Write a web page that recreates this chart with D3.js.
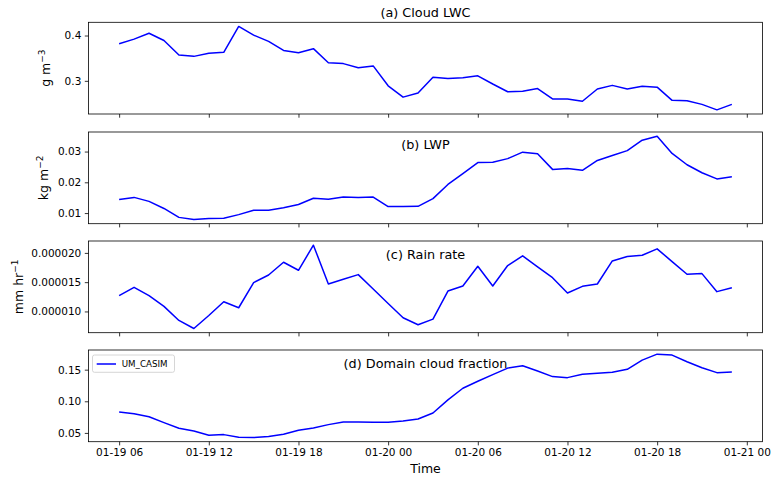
<!DOCTYPE html>
<html>
<head>
<meta charset="utf-8">
<script src="https://cdn.jsdelivr.net/npm/d3@7"></script>
<style>
  html, body { margin: 0; padding: 0; background: #fff; }
  svg { display: block; font-family: "DejaVu Sans", sans-serif; }
</style>
</head>
<body>
<svg id="chart" width="772" height="479"></svg>
<script>
// ---- data ----
const startTime = "2019-01-19T06:00:00Z";
const endTime   = "2019-01-20T23:00:00Z";
const xTickLabels = ["01-19 06","01-19 12","01-19 18","01-20 00","01-20 06","01-20 12","01-20 18","01-21 00"];

const cloudLWC = [0.382,0.392,0.405,0.389,0.357,0.354,0.361,0.363,0.420,0.401,0.387,0.367,0.362,0.371,0.340,0.338,0.329,0.333,0.289,0.264,0.273,0.308,0.305,0.307,0.311,0.293,0.276,0.277,0.283,0.260,0.260,0.255,0.282,0.290,0.282,0.288,0.286,0.257,0.256,0.248,0.236,0.248];
const lwp = [0.0144,0.0151,0.0138,0.0115,0.0086,0.0079,0.0082,0.0083,0.0095,0.0109,0.0109,0.0117,0.0128,0.0148,0.0145,0.0152,0.0151,0.0152,0.0121,0.0121,0.0122,0.0147,0.0193,0.0228,0.0264,0.0265,0.0277,0.0298,0.0293,0.0242,0.0245,0.0239,0.0271,0.0287,0.0303,0.0337,0.0350,0.0294,0.0257,0.0231,0.0211,0.0218];
const rainRate = [1.269e-5,1.412e-5,1.269e-5,1.086e-5,0.846e-5,0.708e-5,0.931e-5,1.166e-5,1.063e-5,1.492e-5,1.623e-5,1.840e-5,1.703e-5,2.132e-5,1.469e-5,1.549e-5,1.629e-5,1.383e-5,1.137e-5,0.892e-5,0.772e-5,0.868e-5,1.348e-5,1.434e-5,1.772e-5,1.434e-5,1.784e-5,1.949e-5,1.760e-5,1.577e-5,1.314e-5,1.429e-5,1.469e-5,1.863e-5,1.938e-5,1.960e-5,2.069e-5,1.852e-5,1.635e-5,1.646e-5,1.338e-5,1.406e-5];
const cloudFraction = [0.0830,0.0803,0.0756,0.0662,0.0574,0.0531,0.0463,0.0473,0.0432,0.0427,0.0442,0.0479,0.0542,0.0579,0.0631,0.0673,0.0673,0.0668,0.0668,0.0688,0.0720,0.0814,0.1023,0.1206,0.1316,0.1421,0.1525,0.1563,0.1478,0.1390,0.1374,0.1426,0.1442,0.1458,0.1505,0.1651,0.1745,0.1730,0.1625,0.1531,0.1453,0.1462];

const panelTitles = ["(a) Cloud LWC","(b) LWP","(c) Rain rate","(d) Domain cloud fraction"];
const yUnits = [["g m","\u22123"],["kg m","\u22122"],["mm hr","\u22121"],null];
const yTicksA = [0.3,0.4];
const yTicksB = [0.01,0.02,0.03];
const yTicksC = [0.000010,0.000015,0.000020];
const yTicksD = [0.05,0.10,0.15];
const yTickFormats = [".1f",".2f",".6f",".2f"];
const legendLabel = "UM_CASIM";
const xLabel = "Time";

// ---- layout ----
const L = 88.5, R = 762.5;
const panelTops = [22.3, 132, 241, 350];
const panelH = 91.7;
const ylabelBaseX = [49.5, 48, 22.7];
const lineColor = "#0000ff";

const svg = d3.select("#chart");
const times = d3.utcHour.range(new Date(startTime), d3.utcHour.offset(new Date(endTime), 1));
const t0 = +times[0], t1 = +times[times.length - 1];
const pad = (t1 - t0) * 0.05;
const x = d3.scaleUtc().domain([new Date(t0 - pad), new Date(t1 + pad)]).range([L, R]);
const xTickDates = xTickLabels.map((s, i) => d3.utcHour.offset(times[0], 6 * i));

const series = [cloudLWC, lwp, rainRate, cloudFraction];
const yTicks = [yTicksA, yTicksB, yTicksC, yTicksD];

series.forEach((vals, p) => {
  const top = panelTops[p], bot = top + panelH;
  const [mn, mx] = d3.extent(vals);
  const m = (mx - mn) * 0.05;
  const y = d3.scaleLinear().domain([mn - m, mx + m]).range([bot, top]);
  const g = svg.append("g");

  // line
  const line = d3.line().x((d, i) => x(times[i])).y(d => y(d));
  g.append("path").datum(vals).attr("d", line)
    .attr("fill", "none").attr("stroke", lineColor).attr("stroke-width", 1.5)
    .attr("stroke-linejoin", "round");

  // y axis
  const yAxis = d3.axisLeft(y).tickValues(yTicks[p]).tickFormat(d3.format(yTickFormats[p]))
    .tickSize(3.7).tickPadding(3.5);
  const ya = g.append("g").attr("transform", `translate(${L},0)`).call(yAxis);
  ya.select(".domain").remove();
  ya.selectAll("text").attr("font-size", 10.5).attr("fill", "#000").attr("font-family", "DejaVu Sans");
  ya.selectAll("line").attr("stroke", "#000").attr("stroke-width", 0.8);

  // x axis
  const xAxis = d3.axisBottom(x).tickValues(xTickDates).tickSize(3.7).tickPadding(3.5)
    .tickFormat((d, i) => p === 3 ? xTickLabels[i] : "");
  const xa = g.append("g").attr("transform", `translate(0,${bot})`).call(xAxis);
  xa.select(".domain").remove();
  xa.selectAll("text").attr("font-size", 10.5).attr("fill", "#000").attr("font-family", "DejaVu Sans");
  xa.selectAll("line").attr("stroke", "#000").attr("stroke-width", 0.8);

  // frame
  g.append("rect").attr("x", L).attr("y", top).attr("width", R - L).attr("height", panelH)
    .attr("fill", "none").attr("stroke", "#000").attr("stroke-width", 0.8);

  // title
  const titleY = p === 0 ? top - 5.8 : [0, 149.3, 259.3, 368.3][p];
  g.append("text").attr("x", (L + R) / 2).attr("y", titleY).attr("text-anchor", "middle")
    .attr("font-size", 12.8).attr("fill", "#000").text(panelTitles[p]);

  // y label
  if (yUnits[p]) {
    const cy = (top + bot) / 2;
    const t = g.append("text").attr("transform", `translate(${ylabelBaseX[p]},${cy}) rotate(-90)`)
      .attr("text-anchor", "middle").attr("font-size", 12.5).attr("fill", "#000");
    t.append("tspan").text(yUnits[p][0]);
    t.append("tspan").attr("dy", -5).attr("font-size", 9).text(yUnits[p][1]);
  }

  // legend in last panel
  if (p === 3) {
    const lg = g.append("g");
    lg.append("rect").attr("x", 92.5).attr("y", 355).attr("width", 82).attr("height", 17.3)
      .attr("rx", 2).attr("fill", "#fff").attr("fill-opacity", 0.8).attr("stroke", "#ccc").attr("stroke-width", 0.8);
    lg.append("line").attr("x1", 96.7).attr("x2", 116).attr("y1", 364).attr("y2", 364)
      .attr("stroke", lineColor).attr("stroke-width", 1.5);
    lg.append("text").attr("x", 121.7).attr("y", 367.2).attr("font-size", 8.7).attr("fill", "#000").text(legendLabel);
    svg.append("text").attr("x", (L + R) / 2).attr("y", 472.5).attr("text-anchor", "middle")
      .attr("font-size", 12.5).attr("fill", "#000").text(xLabel);
  }
});
</script>
</body>
</html>
